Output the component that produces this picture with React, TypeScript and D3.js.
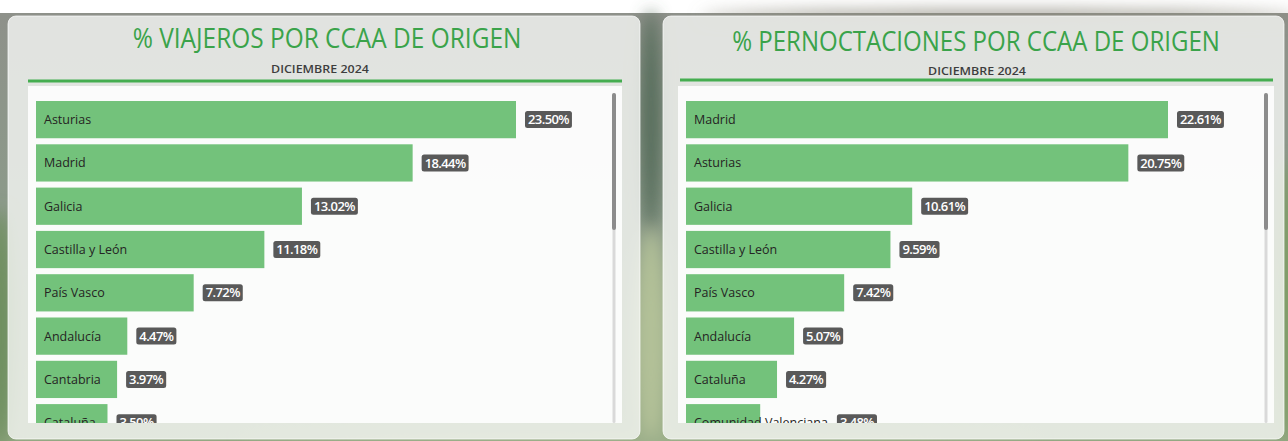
import * as d3 from "d3"
import { useEffect, useRef } from "react"

// values (diciembre 2024)
const viajerosCategorias = [
  "Asturias",
  "Madrid",
  "Galicia",
  "Castilla y León",
  "País Vasco",
  "Andalucía",
  "Cantabria",
  "Cataluña",
]
const viajerosValores = [23.5, 18.44, 13.02, 11.18, 7.72, 4.47, 3.97, 3.5]

const pernoctCategorias = [
  "Madrid",
  "Asturias",
  "Galicia",
  "Castilla y León",
  "País Vasco",
  "Andalucía",
  "Cataluña",
  "Comunidad Valenciana",
]
const pernoctValores = [22.61, 20.75, 10.61, 9.59, 7.42, 5.07, 4.27, 3.48]

const SUBTITULO = "DICIEMBRE 2024"

const W = 1288
const H = 441
const BAR_GREEN = "#73c27b"
const TITLE_GREEN = "#3aa34a"
const LINE_GREEN = "#45ad50"
const LABEL_BG = "#595959"
const FONT = "'Open Sans', 'Noto Sans', sans-serif"

interface PanelLayout {
  id: string
  title: string
  cardX: number
  cardW: number
  innerX: number
  innerW: number
  titleCx: number
  titleW: number
  titleY: number
  subCx: number
  subY: number
  lineX0: number
  lineX1: number
  lineY: number
}

const panels: PanelLayout[] = [
  {
    id: "viajeros",
    title: "% VIAJEROS POR CCAA DE ORIGEN",
    cardX: 8,
    cardW: 632,
    innerX: 28,
    innerW: 594,
    titleCx: 327,
    titleW: 389,
    titleY: 48,
    subCx: 320,
    subY: 73,
    lineX0: 28,
    lineX1: 622,
    lineY: 81,
  },
  {
    id: "pernoct",
    title: "% PERNOCTACIONES POR CCAA DE ORIGEN",
    cardX: 663,
    cardW: 621,
    innerX: 678,
    innerW: 596,
    titleCx: 976,
    titleW: 488,
    titleY: 51,
    subCx: 977,
    subY: 75,
    lineX0: 680,
    lineX1: 1273,
    lineY: 80,
  },
]

// stretch/squeeze a centred text horizontally to a given width
function fitText(
  t: d3.Selection<SVGTextElement, unknown, null, undefined>,
  cx: number,
  y: number,
  width: number,
) {
  const natural = t.node()?.getComputedTextLength() ?? width
  const k = width / natural
  t.attr("x", 0)
    .attr("y", 0)
    .attr("transform", `translate(${cx},${y}) scale(${k},1)`)
}

function drawPanel(
  svg: d3.Selection<SVGSVGElement, unknown, null, undefined>,
  p: PanelLayout,
  categories: string[],
  values: number[],
) {
  const innerTop = 86
  const innerBottom = 423
  const g = svg.append("g")

  // card
  g.append("rect")
    .attr("x", p.cardX)
    .attr("y", 16)
    .attr("width", p.cardW)
    .attr("height", 423)
    .attr("rx", 8)
    .attr("fill", "rgba(246,248,245,0.80)")
    .attr("stroke", "rgba(255,255,255,0.7)")
    .attr("stroke-width", 1)

  const title = g
    .append("text")
    .attr("text-anchor", "middle")
    .attr("font-family", FONT)
    .attr("font-size", 28)
    .attr("font-weight", 400)
    .attr("fill", TITLE_GREEN)
    .text(p.title)
  fitText(title, p.titleCx, p.titleY, p.titleW)

  const sub = g
    .append("text")
    .attr("text-anchor", "middle")
    .attr("font-family", FONT)
    .attr("font-size", 11)
    .attr("font-weight", 600)
    .attr("fill", "#3d3d3d")
    .text(SUBTITULO)
  fitText(sub, p.subCx, p.subY, 98)

  g.append("rect")
    .attr("x", p.lineX0)
    .attr("y", p.lineY - 1.5)
    .attr("width", p.lineX1 - p.lineX0)
    .attr("height", 3)
    .attr("fill", LINE_GREEN)

  // inner visual area
  g.append("rect")
    .attr("x", p.innerX)
    .attr("y", innerTop)
    .attr("width", p.innerW)
    .attr("height", innerBottom - innerTop)
    .attr("fill", "rgba(255,255,255,0.86)")

  const clipId = `clip-${p.id}`
  svg
    .append("defs")
    .append("clipPath")
    .attr("id", clipId)
    .append("rect")
    .attr("x", p.innerX)
    .attr("y", innerTop)
    .attr("width", p.innerW - 14)
    .attr("height", innerBottom - innerTop)

  const step = 43.3
  const y = d3
    .scaleBand<string>()
    .domain(categories)
    .range([101, 101 + step * (categories.length - 0.14)])
    .paddingInner(0.14)
    .paddingOuter(0)

  const x = d3
    .scaleLinear()
    .domain([0, d3.max(values) ?? 1])
    .range([p.innerX + 8, p.innerX + p.innerW - 106])

  const plot = g.append("g").attr("clip-path", `url(#${clipId})`)
  const fmt = d3.format(".2f")

  categories.forEach((cat, i) => {
    const v = values[i]
    const y0 = y(cat)!
    const bw = y.bandwidth()
    const cy = y0 + bw / 2
    const barEnd = x(v)

    plot
      .append("rect")
      .attr("x", x(0))
      .attr("y", y0)
      .attr("width", barEnd - x(0))
      .attr("height", bw)
      .attr("fill", BAR_GREEN)

    const label = plot
      .append("text")
      .attr("x", p.innerX + 16)
      .attr("y", cy + 4.5)
      .attr("font-family", FONT)
      .attr("font-size", 12.5)
      .attr("fill", "#252423")
      .text(cat)
    const textEnd = p.innerX + 16 + (label.node()?.getComputedTextLength() ?? 0)

    const lx = Math.max(barEnd, textEnd) + 9
    const box = plot.append("g")
    const rect = box
      .append("rect")
      .attr("x", lx)
      .attr("y", cy - 8.5)
      .attr("height", 17)
      .attr("rx", 2.5)
      .attr("fill", LABEL_BG)
    const vt = box
      .append("text")
      .attr("y", cy + 4.6)
      .attr("text-anchor", "middle")
      .attr("font-family", FONT)
      .attr("font-size", 13)
      .attr("font-weight", 600)
      .attr("letter-spacing", -0.6)
      .attr("fill", "#ffffff")
      .text(`${fmt(v)}%`)
    const tw = vt.node()?.getComputedTextLength() ?? 40
    rect.attr("width", tw + 6)
    vt.attr("x", lx + (tw + 6) / 2)
  })

  // scrollbar
  const sx = p.innerX + p.innerW - 10
  g.append("rect")
    .attr("x", sx + 0.5)
    .attr("y", 93)
    .attr("width", 3)
    .attr("height", innerBottom - 93)
    .attr("rx", 1.5)
    .attr("fill", "#d9d9d9")
  g.append("rect")
    .attr("x", sx)
    .attr("y", 93)
    .attr("width", 4)
    .attr("height", 137)
    .attr("rx", 2)
    .attr("fill", "#8c8c8c")
}

export default function App() {
  const ref = useRef<SVGSVGElement>(null)

  useEffect(() => {
    if (!ref.current) return
    const svg = d3.select(ref.current)
    svg.selectAll("*").remove()

    const defs = svg.append("defs")
    const grad = defs
      .append("linearGradient")
      .attr("id", "bgGrad")
      .attr("x1", 0)
      .attr("y1", 0)
      .attr("x2", 0)
      .attr("y2", 1)
    grad.append("stop").attr("offset", 0).attr("stop-color", "#8e918a")
    grad.append("stop").attr("offset", 0.45).attr("stop-color", "#8c9a8a")
    grad.append("stop").attr("offset", 1).attr("stop-color", "#93a883")
    defs
      .append("filter")
      .attr("id", "blur")
      .attr("x", "-50%")
      .attr("y", "-50%")
      .attr("width", "200%")
      .attr("height", "200%")
      .append("feGaussianBlur")
      .attr("stdDeviation", 8)

    svg.append("rect").attr("width", W).attr("height", H).attr("fill", "#ffffff")
    svg
      .append("rect")
      .attr("y", 13)
      .attr("width", W)
      .attr("height", H - 13)
      .attr("fill", "url(#bgGrad)")

    // blurred background photo impression
    const bg = svg.append("g").attr("filter", "url(#blur)")
    bg.append("ellipse").attr("cx", 651).attr("cy", 120).attr("rx", 10).attr("ry", 110).attr("fill", "#536b58")
    bg.append("ellipse").attr("cx", 651).attr("cy", 340).attr("rx", 16).attr("ry", 110).attr("fill", "#b3c198")
    bg.append("ellipse").attr("cx", 0).attr("cy", 330).attr("rx", 14).attr("ry", 120).attr("fill", "#6e8f5e")
    bg.append("ellipse").attr("cx", 1288).attr("cy", 300).attr("rx", 12).attr("ry", 140).attr("fill", "#7f9d66")
    bg.append("ellipse").attr("cx", 640).attr("cy", 440).attr("rx", 400).attr("ry", 8).attr("fill", "#9fb18c")
    bg.append("ellipse").attr("cx", 1000).attr("cy", 16).attr("rx", 300).attr("ry", 5).attr("fill", "#8a877a")

    drawPanel(svg, panels[0], viajerosCategorias, viajerosValores)
    drawPanel(svg, panels[1], pernoctCategorias, pernoctValores)
  }, [])

  return (
    <svg
      ref={ref}
      width={W}
      height={H}
      style={{ position: "absolute", left: 0, top: 0, display: "block" }}
    />
  )
}
